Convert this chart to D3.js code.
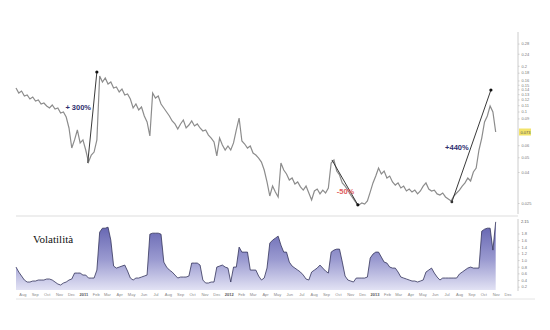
<!DOCTYPE html>
<html>
<head>
<meta charset="utf-8">
<script src="https://cdn.jsdelivr.net/npm/d3@7"></script>
<style>
  body { margin: 0; background: #fff; }
  .axis text { font-family: "Liberation Sans", Arial, sans-serif; fill: #777; }
  .axis path, .axis line { stroke: #ccc; }
</style>
</head>
<body>
<div id="drawing"></div>
<script>
// weekly closes (first week 16 Jul 2010)
const startDate = new Date(2010, 6, 16);
const priceValues = [
  0.1428, 0.1323, 0.1364, 0.1265, 0.1284, 0.1209, 0.1246, 0.1172, 0.1190, 0.1120,
  0.1137, 0.1087, 0.1055, 0.1104, 0.1039, 0.1055, 0.0978, 0.0993, 0.0920, 0.0779,
  0.0575, 0.0650, 0.0756, 0.0621, 0.0650, 0.0558, 0.0465, 0.0517, 0.0541, 0.0650,
  0.1712, 0.1564, 0.1662, 0.1517, 0.1564, 0.1428, 0.1450, 0.1344, 0.1406, 0.1284,
  0.1304, 0.1209, 0.1055, 0.1120, 0.1023, 0.1071, 0.0934, 0.0853, 0.0690, 0.1323,
  0.1227, 0.1265, 0.1120, 0.1055, 0.0993, 0.0934, 0.0866, 0.0828, 0.0767, 0.0828,
  0.0879, 0.0779, 0.0815, 0.0866, 0.0803, 0.0828, 0.0779, 0.0744, 0.0756, 0.0700,
  0.0669, 0.0630, 0.0510, 0.0669, 0.0602, 0.0558, 0.0593, 0.0558, 0.0621, 0.0756,
  0.0906, 0.0640, 0.0611, 0.0575, 0.0593, 0.0533, 0.0517, 0.0494, 0.0465, 0.0412,
  0.0344, 0.0278, 0.0323, 0.0295, 0.0274, 0.0458, 0.0412, 0.0388, 0.0354, 0.0365,
  0.0333, 0.0344, 0.0319, 0.0304, 0.0323, 0.0291, 0.0262, 0.0300, 0.0309, 0.0287,
  0.0304, 0.0291, 0.0314, 0.0458, 0.0480, 0.0406, 0.0382, 0.0339, 0.0323, 0.0304,
  0.0282, 0.0266, 0.0250, 0.0243, 0.0250, 0.0246, 0.0258, 0.0295, 0.0339, 0.0376,
  0.0425, 0.0388, 0.0406, 0.0365, 0.0376, 0.0344, 0.0328, 0.0339, 0.0314, 0.0323,
  0.0300, 0.0309, 0.0295, 0.0304, 0.0287, 0.0300, 0.0323, 0.0339, 0.0309, 0.0300,
  0.0304, 0.0287, 0.0282, 0.0291, 0.0274, 0.0266, 0.0258, 0.0278, 0.0291, 0.0304,
  0.0323, 0.0339, 0.0365, 0.0349, 0.0400, 0.0425, 0.0558, 0.0669, 0.0853, 0.0934,
  0.1087, 0.0993, 0.0733
];
const volValues = [
  0.79, 0.64, 0.52, 0.40, 0.34, 0.34, 0.37, 0.37, 0.40, 0.40,
  0.40, 0.43, 0.43, 0.40, 0.34, 0.28, 0.25, 0.31, 0.34, 0.40,
  0.43, 0.61, 0.61, 0.61, 0.55, 0.55, 0.46, 0.46, 0.46, 0.70,
  1.84, 1.96, 1.96, 1.99, 1.60, 0.82, 0.76, 0.79, 0.82, 0.85,
  0.67, 0.46, 0.40, 0.46, 0.46, 0.49, 0.52, 0.55, 1.78, 1.81,
  1.81, 1.81, 1.78, 0.94, 0.79, 0.70, 0.64, 0.55, 0.46, 0.49,
  0.49, 0.49, 0.52, 0.91, 0.91, 0.91, 0.85, 0.40, 0.31, 0.31,
  0.34, 0.34, 0.79, 0.82, 0.85, 0.79, 0.76, 0.34, 0.79, 0.79,
  1.39, 1.24, 1.24, 1.24, 0.70, 0.70, 0.70, 0.52, 0.40, 0.46,
  0.76, 1.51, 1.60, 1.66, 1.72, 1.45, 1.24, 1.24, 0.94, 0.82,
  0.76, 0.70, 0.64, 0.55, 0.43, 0.40, 0.64, 0.70, 0.76, 0.85,
  0.76, 0.67, 0.61, 1.24, 1.30, 1.33, 1.33, 0.94, 0.52, 0.40,
  0.37, 0.34, 0.46, 0.46, 0.46, 0.46, 0.49, 1.06, 1.18, 1.24,
  1.24, 1.09, 0.94, 0.91, 0.79, 0.76, 0.76, 0.64, 0.49, 0.46,
  0.43, 0.40, 0.37, 0.37, 0.34, 0.37, 0.40, 0.64, 0.70, 0.76,
  0.61, 0.49, 0.40, 0.46, 0.46, 0.46, 0.46, 0.46, 0.46, 0.58,
  0.64, 0.70, 0.76, 0.79, 0.76, 0.76, 0.76, 1.87, 1.93, 1.96,
  1.96, 1.30, 2.15
];
const priceTicks = [0.025, 0.04, 0.05, 0.06, 0.07, 0.08, 0.09, 0.1, 0.11, 0.12, 0.13, 0.14, 0.15, 0.16, 0.18, 0.2, 0.24, 0.28];
const volTicks = [0.2, 0.4, 0.6, 0.8, 1.0, 1.2, 1.4, 1.6, 1.8];
const monthNames = ["Jan", "Feb", "Mar", "Apr", "May", "Jun", "Jul", "Aug", "Sep", "Oct", "Nov", "Dec"];

// the three moves marked on the chart
const moveLabels = ["+ 300%", "-50%", "+440%"];
const moveFrom = [
  {date: new Date(2011, 0, 12), value: 0.0458},
  {date: new Date(2012, 8, 16), value: 0.0480},
  {date: new Date(2013, 6, 14), value: 0.0254}
];
const moveTo = [
  {date: new Date(2011, 1, 4), value: 0.182},
  {date: new Date(2012, 10, 20), value: 0.0243},
  {date: new Date(2013, 9, 20), value: 0.1385}
];
const labelAt = [
  {date: new Date(2010, 10, 17), value: 0.103},
  {date: new Date(2012, 8, 28), value: 0.0288},
  {date: new Date(2013, 5, 27), value: 0.0558}
];
const moveColors = ["#2e2e6e", "#e06060", "#2e2e6e"];

const width = 550;
const height = 330;

const svg = d3.select("#drawing").append("svg")
  .attr("width", width)
  .attr("height", height)
  .style("background", "#fff");

const weeks = priceValues.map((d, i) => d3.timeDay.offset(startDate, 7 * i));
const priceData = weeks.map((d, i) => ({date: d, value: priceValues[i]}));
const volData = weeks.map((d, i) => ({date: d, value: volValues[i]}));

const xScale = d3.scaleTime()
  .domain([startDate, new Date(2013, 11, 27)])
  .range([16, 518]);

const yPrice = d3.scaleLog()
  .domain([0.025, 0.3])
  .range([203, 39]);

const yVol = d3.scaleLinear()
  .domain([0.1, 2.2])
  .range([290, 220.2]);

// frame lines
svg.append("line")
  .attr("x1", 16).attr("x2", 518).attr("y1", 216).attr("y2", 216)
  .style("stroke", "#ddd");
svg.append("line")
  .attr("x1", 16).attr("x2", 535).attr("y1", 299).attr("y2", 299)
  .style("stroke", "#e4e4e4");

// price panel
const lastPrice = priceValues[priceValues.length - 1];
const shownPriceTicks = priceTicks.filter(t => Math.abs(yPrice(t) - yPrice(lastPrice)) > 6);

const priceAxis = svg.append("g")
  .attr("class", "axis")
  .attr("transform", "translate(518,0)")
  .call(d3.axisRight(yPrice).tickValues(shownPriceTicks).tickSize(1.5).tickPadding(2)
    .tickFormat(d3.format(".3~f")));
priceAxis.selectAll("text").style("font-size", "4px");
priceAxis.select(".domain").attr("d", "M0,32V214");

svg.append("rect")
  .attr("x", 519).attr("y", yPrice(lastPrice) - 3.5)
  .attr("width", 12).attr("height", 7)
  .style("fill", "#f2e36a");
svg.append("text")
  .attr("x", 520.5).attr("y", yPrice(lastPrice) + 1.5)
  .style("font-family", "Liberation Sans, Arial, sans-serif")
  .style("font-size", "4px").style("fill", "#555")
  .text(d3.format(".3f")(lastPrice));

const priceLine = d3.line()
  .x(d => xScale(d.date))
  .y(d => yPrice(d.value));

svg.append("path")
  .attr("d", priceLine(priceData))
  .style("fill", "none")
  .style("stroke", "#8c8c8c")
  .style("stroke-width", 1.2);

moveFrom.forEach((from, i) => {
  const to = moveTo[i];
  svg.append("line")
    .attr("x1", xScale(from.date)).attr("y1", yPrice(from.value))
    .attr("x2", xScale(to.date)).attr("y2", yPrice(to.value))
    .style("stroke", "#222")
    .style("stroke-width", 0.9);
  svg.append("circle")
    .attr("cx", xScale(to.date)).attr("cy", yPrice(to.value))
    .attr("r", 1.6).style("fill", "#111");
});
svg.append("circle")
  .attr("cx", xScale(moveFrom[2].date)).attr("cy", yPrice(moveFrom[2].value))
  .attr("r", 1.4).style("fill", "#333");

labelAt.forEach((p, i) => {
  svg.append("text")
    .attr("x", xScale(p.date)).attr("y", yPrice(p.value))
    .style("font-family", "Liberation Sans, Arial, sans-serif")
    .style("font-size", "7.5px")
    .style("font-weight", "bold")
    .style("fill", moveColors[i])
    .text(moveLabels[i]);
});

// volatility panel
const grad = svg.append("defs").append("linearGradient")
  .attr("id", "volFill")
  .attr("x1", 0).attr("y1", 0).attr("x2", 0).attr("y2", 1);
grad.append("stop").attr("offset", "0%").style("stop-color", "#5f5fae");
grad.append("stop").attr("offset", "55%").style("stop-color", "#9a9ad0");
grad.append("stop").attr("offset", "100%").style("stop-color", "#e2e2f4");

const volArea = d3.area()
  .x(d => xScale(d.date))
  .y0(yVol(0.1))
  .y1(d => yVol(d.value));

svg.append("path")
  .attr("d", volArea(volData))
  .style("fill", "url(#volFill)");

svg.append("path")
  .attr("d", d3.line().x(d => xScale(d.date)).y(d => yVol(d.value))(volData))
  .style("fill", "none")
  .style("stroke", "#34345a")
  .style("stroke-width", 0.8);

const volAxis = svg.append("g")
  .attr("class", "axis")
  .attr("transform", "translate(518,0)")
  .call(d3.axisRight(yVol).tickValues(volTicks).tickSize(1.5).tickPadding(2)
    .tickFormat(d3.format(".1f")));
volAxis.selectAll("text").style("font-size", "4px");
volAxis.select(".domain").attr("d", "M0,219V291");

const lastVol = volValues[volValues.length - 1];
svg.append("text")
  .attr("x", 521).attr("y", yVol(lastVol) + 1)
  .style("font-family", "Liberation Sans, Arial, sans-serif")
  .style("font-size", "4px").style("fill", "#555")
  .text(d3.format(".2f")(lastVol));

svg.append("text")
  .attr("x", 33).attr("y", 243)
  .style("font-family", "Liberation Serif, Times New Roman, serif")
  .style("font-size", "11px")
  .style("fill", "#111")
  .text("Volatilità");

// month axis along the bottom
const months = d3.timeMonth.range(new Date(2010, 7, 1), new Date(2014, 0, 1));
const xAxis = svg.append("g")
  .attr("class", "axis")
  .attr("transform", "translate(0,290)")
  .call(d3.axisBottom(xScale).tickValues(months).tickSize(0).tickPadding(3)
    .tickFormat(d => d.getMonth() === 0 ? d.getFullYear() : monthNames[d.getMonth()]));
xAxis.select(".domain").remove();
xAxis.selectAll("text")
  .style("font-size", "4px")
  .style("font-weight", d => d.getMonth() === 0 ? "bold" : "normal")
  .style("fill", d => d.getMonth() === 0 ? "#555" : "#888");
</script>
</body>
</html>
